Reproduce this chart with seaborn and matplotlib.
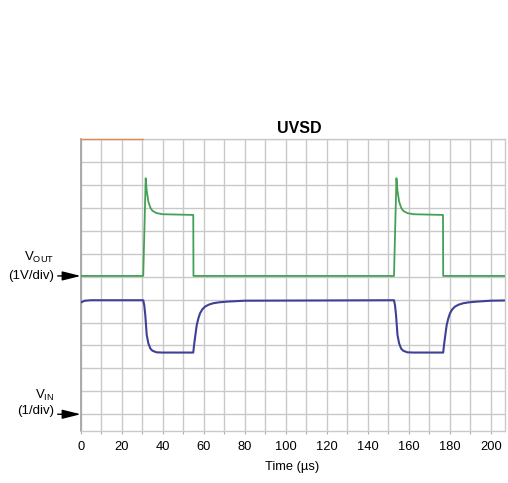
import matplotlib
matplotlib.use("Agg")
import matplotlib.pyplot as plt
import seaborn as sns
import pandas as pd

# ---- data (time in µs, level in divisions) ----
green_t = [0, 30.5, 31.7, 32.2, 33.0, 34.0, 35.0, 37.0, 40.0, 54.9, 55.0,
           152.8, 154.0, 154.5, 155.3, 156.3, 157.3, 159.3, 162.3, 176.7, 176.8, 206.7]
green_v = [6.03, 6.03, 10.29, 9.75, 9.27, 9.0, 8.87, 8.77, 8.72, 8.69, 6.03,
           6.03, 10.29, 9.75, 9.27, 9.0, 8.87, 8.77, 8.72, 8.69, 6.03, 6.03]

blue_t = [0, 2, 5, 30.5, 31.0, 31.5, 32.2, 33.0, 34.0, 35.0, 37.0, 40.0,
          54.9, 55.3, 56.0, 56.6, 57.4, 58.2, 59.3, 60.6, 62.5, 64.7, 67.5, 71.2, 80.0,
          152.8, 153.3, 153.8, 154.5, 155.3, 156.3, 157.3, 159.3, 162.3,
          176.8, 177.2, 177.9, 178.5, 179.3, 180.1, 181.2, 182.5, 184.4, 186.6, 189.4,
          193.1, 200.0, 206.7]
blue_v = [4.87, 4.95, 4.97, 4.97, 4.75, 4.32, 3.46, 3.09, 2.86, 2.77, 2.70, 2.69,
          2.69, 3.02, 3.50, 3.89, 4.18, 4.40, 4.57, 4.69, 4.78, 4.84, 4.88, 4.91, 4.95,
          4.97, 4.75, 4.32, 3.46, 3.09, 2.86, 2.77, 2.70, 2.69,
          2.69, 3.02, 3.50, 3.89, 4.18, 4.40, 4.57, 4.69, 4.78, 4.84, 4.88,
          4.91, 4.95, 4.96]

orange_t = [0, 30.5]
orange_v = [12, 12]

x_ticks = [0, 20, 40, 60, 80, 100, 120, 140, 160, 180, 200]
x_minor = [10, 30, 50, 70, 90, 110, 130, 150, 170, 190]
y_grid = list(range(0, 13))

title = "UVSD"
xlabel = "Time (µs)"
vout_name, vout_scale, vout_level = r"V$_{\rm OUT}$", "(1V/div)", 6.03
vin_name, vin_scale, vin_level = r"V$_{\rm IN}$", "(1/div)", 0.0

# ---- styling ----
sns.set_theme(style="white")
plt.rcParams["font.family"] = ["Liberation Sans", "DejaVu Sans"]
plt.rcParams["mathtext.fontset"] = "custom"
plt.rcParams["mathtext.rm"] = "Liberation Sans"
plt.rcParams["text.color"] = "black"
plt.rcParams["axes.labelcolor"] = "black"
plt.rcParams["axes.titlecolor"] = "black"

W, H = 508, 483
fig = plt.figure(figsize=(W / 100, H / 100), dpi=100)
L, R, T, B = 80.7, 504.5, 139, 431
ax = fig.add_axes([L / W, 1 - B / H, (R - L) / W, (B - T) / H])

grid_c = "#c9c9c9"
df_g = pd.DataFrame({"t": green_t, "v": green_v})
df_b = pd.DataFrame({"t": blue_t, "v": blue_v})
df_o = pd.DataFrame({"t": orange_t, "v": orange_v})

sns.lineplot(data=df_g, x="t", y="v", ax=ax, color="#44a056", lw=1.3,
             estimator=None, sort=False, zorder=5)
sns.lineplot(data=df_b, x="t", y="v", ax=ax, color="#3d4096", lw=1.5,
             estimator=None, sort=False, zorder=5)
sns.lineplot(data=df_o, x="t", y="v", ax=ax, color="#e38a5a", lw=1.0,
             estimator=None, sort=False, zorder=6, clip_on=False)

ax.set_xlim(0, 206.7)
ax.set_ylim(-0.73, 12)
ax.set_xticks(x_ticks)
ax.set_xticks(x_minor, minor=True)
ax.set_yticks(y_grid)
ax.set_yticklabels([])
ax.grid(True, which="both", axis="x", color=grid_c, lw=1.0)
ax.grid(True, which="major", axis="y", color=grid_c, lw=1.0)
ax.tick_params(axis="y", length=0)
ax.tick_params(axis="x", which="both", bottom=True, length=2, width=0.8,
               color="#b0b0b0", pad=5.0, labelsize=9.3, labelcolor="black")
ax.set_xlabel(xlabel, fontsize=9.3, labelpad=6)
ax.set_ylabel("")
ax.set_title(title, fontsize=11.5, fontweight="bold", x=0.515, pad=4.5,
             color="black")

for side in ["top", "right", "bottom"]:
    ax.spines[side].set_color(grid_c)
    ax.spines[side].set_linewidth(1.0)
ax.spines["left"].set_color("#a5a5a5")
ax.spines["left"].set_linewidth(1.3)

# ---- channel markers on the left ----
def fx(px):
    return px / W

def fy(py):
    return 1 - py / H

fig.text(fx(54), fy(257), vout_name, ha="right", va="center", fontsize=9.5)
fig.text(fx(54), fy(276), vout_scale, ha="right", va="center", fontsize=9.5)
fig.text(fx(54), fy(395), vin_name, ha="right", va="center", fontsize=9.5)
fig.text(fx(54), fy(411), vin_scale, ha="right", va="center", fontsize=9.5)

for lvl in [vout_level, vin_level]:
    ax.annotate("", xy=(0, lvl), xycoords="data",
                xytext=(-23, 0), textcoords="offset pixels",
                arrowprops=dict(arrowstyle="-|>,head_length=0.8,head_width=0.2",
                                color="black", lw=1.0, mutation_scale=14,
                                shrinkA=0, shrinkB=0),
                annotation_clip=False)

fig.savefig("out.png", dpi=100)
